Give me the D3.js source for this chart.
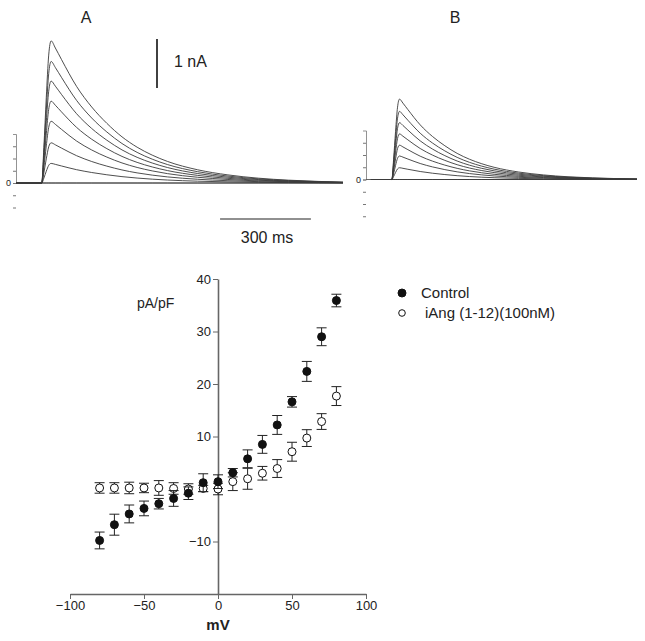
<!DOCTYPE html>
<html>
<head>
<meta charset="utf-8">
<script src="https://cdn.jsdelivr.net/npm/d3@7"></script>
<style>
  body { margin: 0; background: #fff; }
  svg { display: block; }
  text { font-family: "Liberation Sans", Arial, sans-serif; fill: #222; }
</style>
</head>
<body>
<svg id="chart" width="645" height="641"></svg>
<script>
// ---- IV curve data (pA/pF vs mV) ----
const voltages = [-80, -70, -60, -50, -40, -30, -20, -10, 0, 10, 20, 30, 40, 50, 60, 70, 80];
const controlMean = [-9.8, -6.8, -4.75, -3.7, -2.8, -1.8, -0.8, 1.2, 1.4, 3.1, 5.75, 8.5, 12.2, 16.6, 22.4, 29.0, 35.9];
const controlSem  = [1.6, 2.0, 1.7, 1.4, 1.0, 1.5, 1.2, 1.7, 1.3, 0.8, 1.7, 1.7, 1.8, 1.0, 1.9, 1.7, 1.2];
const iangMean = [0.2, 0.2, 0.2, 0.2, 0.2, 0.1, 0, 0.1, 0, 1.4, 1.95, 3.0, 3.9, 7.1, 9.7, 12.85, 17.7];
const iangSem  = [1.0, 1.0, 1.1, 0.9, 1.4, 1.1, 1.0, 0.6, 1.1, 1.7, 2.0, 1.3, 1.7, 1.8, 1.6, 1.5, 1.8];
const xTicks = [-100, -50, 0, 50, 100];
const yTicks = [40, 30, 20, 10, -10];
const legendLabels = ["Control", "iAng (1-12)(100nM)"];

// ---- current traces (nA vs ms) ----
// waveform of the largest trace, normalised to its peak
const traceTime  = [0, 85, 92, 100, 108, 116, 130, 150, 200, 250, 300, 350, 400, 450, 500, 600, 700, 800, 900, 1000, 1080];
const traceShape = [0, 0, 0.25, 0.6, 0.9, 1.0, 0.95, 0.87, 0.68, 0.535, 0.42, 0.325, 0.252, 0.196, 0.152, 0.093, 0.057, 0.034, 0.02, 0.011, 0.006];
const peaksA = [2.9, 2.48, 2.08, 1.67, 1.26, 0.82, 0.4, 0];
const peaksB = [1.64, 1.39, 1.16, 0.93, 0.7, 0.48, 0.24, 0];
const ampTicksA = [-0.5, -0.25, 0, 0.25, 0.5, 0.75];
const ampTicksB = [-0.75, -0.5, -0.25, 0, 0.25, 0.5, 0.75];

const svg = d3.select("#chart");

// =====================================================
// TRACES
// =====================================================
function drawTraces(peaks, xs, ys, ticks, panelLabel, labelX) {
  const g = svg.append("g");

  // small amplitude axis
  g.append("g")
    .attr("transform", `translate(${xs.range()[0]},0)`)
    .call(d3.axisLeft(ys).tickValues(ticks).tickSize(3).tickFormat(d => d === 0 ? "0" : ""))
    .call(a => a.select(".domain").attr("stroke", "#777").attr("stroke-width", 0.8))
    .call(a => a.selectAll(".tick line").attr("stroke", "#777"))
    .call(a => a.selectAll(".tick text").attr("font-size", 9).attr("fill", "#444").attr("x", -5));

  // baseline
  g.append("line")
    .attr("x1", xs.range()[0]).attr("x2", xs.range()[1])
    .attr("y1", ys(0)).attr("y2", ys(0))
    .attr("stroke", "#555").attr("stroke-width", 0.9);

  const line = d3.line()
    .x(d => xs(d[0]))
    .y(d => ys(d[1]))
    .curve(d3.curveMonotoneX);

  peaks.forEach(p => {
    const pts = traceTime.map((t, i) => [t, p * traceShape[i]]);
    g.append("path")
      .attr("d", line(pts))
      .attr("fill", "none")
      .attr("stroke", "#3a3a3a")
      .attr("stroke-width", 0.9);
  });

  svg.append("text")
    .attr("x", labelX).attr("y", 23)
    .attr("text-anchor", "middle")
    .attr("font-size", 16)
    .text(panelLabel);
}

const xA = d3.scaleLinear().domain([0, 1080]).range([16, 343]);
const yA = d3.scaleLinear().domain([0, 1]).range([183, 134]);
drawTraces(peaksA, xA, yA, ampTicksA, "A", 86);

const xB = d3.scaleLinear().domain([-20, 1080]).range([366, 637]);
const yB = d3.scaleLinear().domain([0, 1]).range([179.5, 130.5]);
drawTraces(peaksB, xB, yB, ampTicksB, "B", 455);

// scale bars (1 nA, 300 ms) in panel A units
svg.append("line")
  .attr("x1", 157).attr("x2", 157)
  .attr("y1", yA(2.94)).attr("y2", yA(1.94))
  .attr("stroke", "#111").attr("stroke-width", 1.6);
svg.append("text")
  .attr("x", 174).attr("y", 67)
  .attr("font-size", 16)
  .text("1 nA");

svg.append("line")
  .attr("x1", xA(674)).attr("x2", xA(974))
  .attr("y1", 219).attr("y2", 219)
  .attr("stroke", "#222").attr("stroke-width", 1.1);
svg.append("text")
  .attr("x", 267).attr("y", 243)
  .attr("text-anchor", "middle")
  .attr("font-size", 16)
  .text("300 ms");

// =====================================================
// IV PLOT
// =====================================================
const x = d3.scaleLinear().domain([-100, 100]).range([70, 366]);
const y = d3.scaleLinear().domain([-20, 40]).range([594, 279]);

// y axis at x = 0
svg.append("g")
  .attr("transform", `translate(${x(0)},0)`)
  .call(d3.axisLeft(y).tickValues(yTicks).tickSize(5).tickSizeOuter(0))
  .call(a => a.select(".domain").attr("stroke", "#666").attr("stroke-width", 1.6))
  .call(a => a.selectAll(".tick line").attr("stroke", "#666"))
  .call(a => a.selectAll(".tick text").attr("font-size", 13).attr("fill", "#333").attr("x", -7));

// x axis at bottom
svg.append("g")
  .attr("transform", `translate(0,${y(-20)})`)
  .call(d3.axisBottom(x).tickValues(xTicks).tickSize(5).tickSizeOuter(0))
  .call(a => a.select(".domain").attr("stroke", "#666").attr("stroke-width", 1.4))
  .call(a => a.selectAll(".tick line").attr("stroke", "#666"))
  .call(a => a.selectAll(".tick text").attr("font-size", 13).attr("fill", "#333").attr("y", 7));

svg.append("text")
  .attr("x", x(0)).attr("y", 630)
  .attr("text-anchor", "middle")
  .attr("font-size", 15)
  .attr("font-weight", "bold")
  .text("mV");

svg.append("text")
  .attr("x", 137).attr("y", 308)
  .attr("font-size", 14)
  .attr("fill", "#333")
  .text("pA/pF");

// series
function drawSeries(means, sems, filled) {
  const g = svg.append("g");
  voltages.forEach((v, i) => {
    const cx = x(v);
    const lo = y(means[i] - sems[i]);
    const hi = y(means[i] + sems[i]);
    g.append("line").attr("x1", cx).attr("x2", cx).attr("y1", lo).attr("y2", hi)
      .attr("stroke", "#222").attr("stroke-width", 1);
    [lo, hi].forEach(yy => {
      g.append("line").attr("x1", cx - 5).attr("x2", cx + 5).attr("y1", yy).attr("y2", yy)
        .attr("stroke", "#222").attr("stroke-width", 1);
    });
    g.append("circle")
      .attr("cx", cx).attr("cy", y(means[i]))
      .attr("r", 4)
      .attr("fill", filled ? "#111" : "#fff")
      .attr("stroke", "#111").attr("stroke-width", 1);
  });
}
drawSeries(iangMean, iangSem, false);
drawSeries(controlMean, controlSem, true);

// legend
const legend = svg.append("g");
legendLabels.forEach((lab, i) => {
  legend.append("circle")
    .attr("cx", 402).attr("cy", 293 + i * 20)
    .attr("r", i === 0 ? 4 : 3.3)
    .attr("fill", i === 0 ? "#111" : "#fff")
    .attr("stroke", "#111").attr("stroke-width", 1);
  legend.append("text")
    .attr("x", i === 0 ? 421 : 425).attr("y", 298 + i * 20)
    .attr("font-size", 15)
    .attr("fill", "#333")
    .text(lab);
});
</script>
</body>
</html>
